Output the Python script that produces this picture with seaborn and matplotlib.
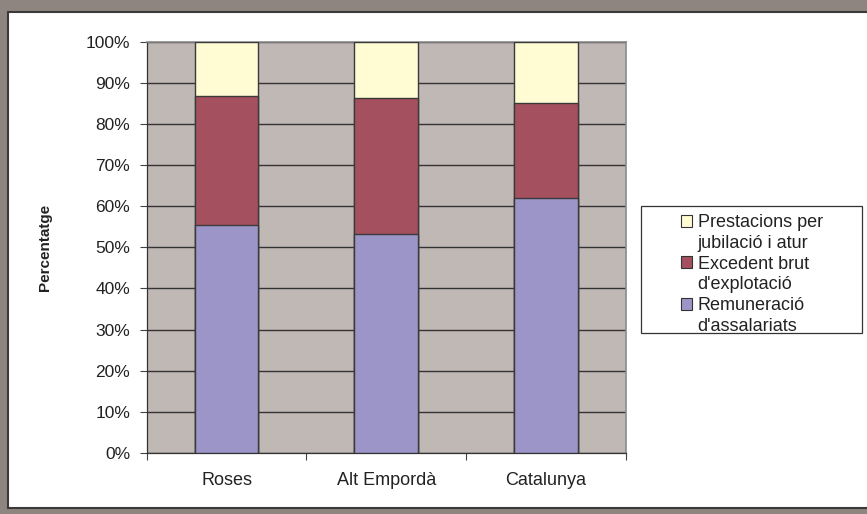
import pandas as pd
import matplotlib.pyplot as plt
import matplotlib.patches as mpatches
import seaborn as sns

# ==========================================
# DATA (percentages)
# ==========================================
regions = ["Roses", "Alt Empordà", "Catalunya"]
remuneracio = [55.5, 53.3, 62.1]
excedent = [31.2, 33.0, 23.1]
prestacions = [13.3, 13.7, 14.8]

series_labels = [("Prestacions per", "jubilació i atur"),
                 ("Excedent brut", "d'explotació"),
                 ("Remuneració", "d'assalariats")]
series_colors = ["#FFFBD3", "#A5505F", "#9C96C8"]
y_ticks = list(range(0, 101, 10))

df = pd.DataFrame({"region": regions,
                   "remuneracio": remuneracio,
                   "excedent": excedent,
                   "prestacions": prestacions})
# cumulative tops, drawn back to front
df["top_rem"] = df["remuneracio"]
df["top_exc"] = df["remuneracio"] + df["excedent"]
df["top_pre"] = df["top_exc"] + df["prestacions"]

sns.set_theme(style="white")
plt.rcParams["font.family"] = ["Liberation Sans", "DejaVu Sans"]

fig = plt.figure(figsize=(8.67, 5.14), dpi=100)
fig.patch.set_facecolor("#8E8480")

# white inner panel (runs off the right edge, as in the screenshot)
W, H = 867, 514
panel = mpatches.Rectangle((8 / W, 1 - 508 / H), 880 / W, 496 / H,
                           transform=fig.transFigure, facecolor="white",
                           edgecolor="#3a3a3a", linewidth=1.5, zorder=0)
fig.add_artist(panel)

ax = fig.add_axes([146.7 / W, 1 - 453 / H, 479 / W, 411.3 / H])
ax.set_facecolor("#C0B8B5")

for col, color in zip(["top_pre", "top_exc", "top_rem"], series_colors):
    sns.barplot(data=df, x="region", y=col, color=color, width=0.4,
                edgecolor="#3a3a3a", linewidth=1.0, saturation=1,
                errorbar=None, ax=ax, zorder=3)

ax.set_xlim(-0.5, 2.5)
ax.set_ylim(0, 100)
ax.set_yticks(y_ticks)
ax.set_yticklabels([f"{t}%" for t in y_ticks], fontsize=12.5, color="#222222")
ax.set_xticks(range(len(regions)))
ax.set_xticklabels(regions, fontsize=13, color="#222222")
ax.set_xticks([-0.5, 0.5, 1.5, 2.5], minor=True)
ax.tick_params(axis="x", which="major", length=0, pad=14)
ax.tick_params(axis="x", which="minor", length=5, direction="out",
               color="#444444", width=0.8, bottom=True)
ax.tick_params(axis="y", length=5, direction="out", color="#444444",
               width=0.8, left=True, pad=7)
ax.set_xlabel("")
ax.set_ylabel("")

ax.yaxis.grid(True, color="#333333", linewidth=1.0, zorder=1)
ax.set_axisbelow(True)
for side in ["top", "right"]:
    ax.spines[side].set_color("#8a8a8a")
    ax.spines[side].set_linewidth(1.2)
for side in ["left", "bottom"]:
    ax.spines[side].set_color("#333333")
    ax.spines[side].set_linewidth(0.9)

fig.text(45 / W, 1 - 247 / H, "Percentatge", rotation=90, ha="center",
         va="center", fontsize=11, fontweight="bold", color="#222222")

# legend with Excel-style box; each label wraps, handle sits on first line
legend_box = mpatches.Rectangle((641 / W, 1 - 333 / H), 221 / W, 127 / H,
                                transform=fig.transFigure, facecolor="white",
                                edgecolor="#333333", linewidth=0.9, zorder=1)
fig.add_artist(legend_box)
handles, labels = [], []
for (first, second), c in zip(series_labels, series_colors):
    handles.append(mpatches.Patch(facecolor=c, edgecolor="#333333", linewidth=0.8))
    labels.append(first)
    handles.append(mpatches.Patch(facecolor="none", edgecolor="none"))
    labels.append(second)
leg = fig.legend(handles, labels, loc="upper left",
                 bbox_to_anchor=(672 / W, 1 - 205 / H), frameon=False,
                 fontsize=13, handlelength=0.62, handleheight=0.62,
                 handletextpad=0.3, labelspacing=0.21, borderpad=0)
for t in leg.get_texts():
    t.set_color("#222222")

fig.savefig("out.png", dpi=100, facecolor=fig.get_facecolor())
